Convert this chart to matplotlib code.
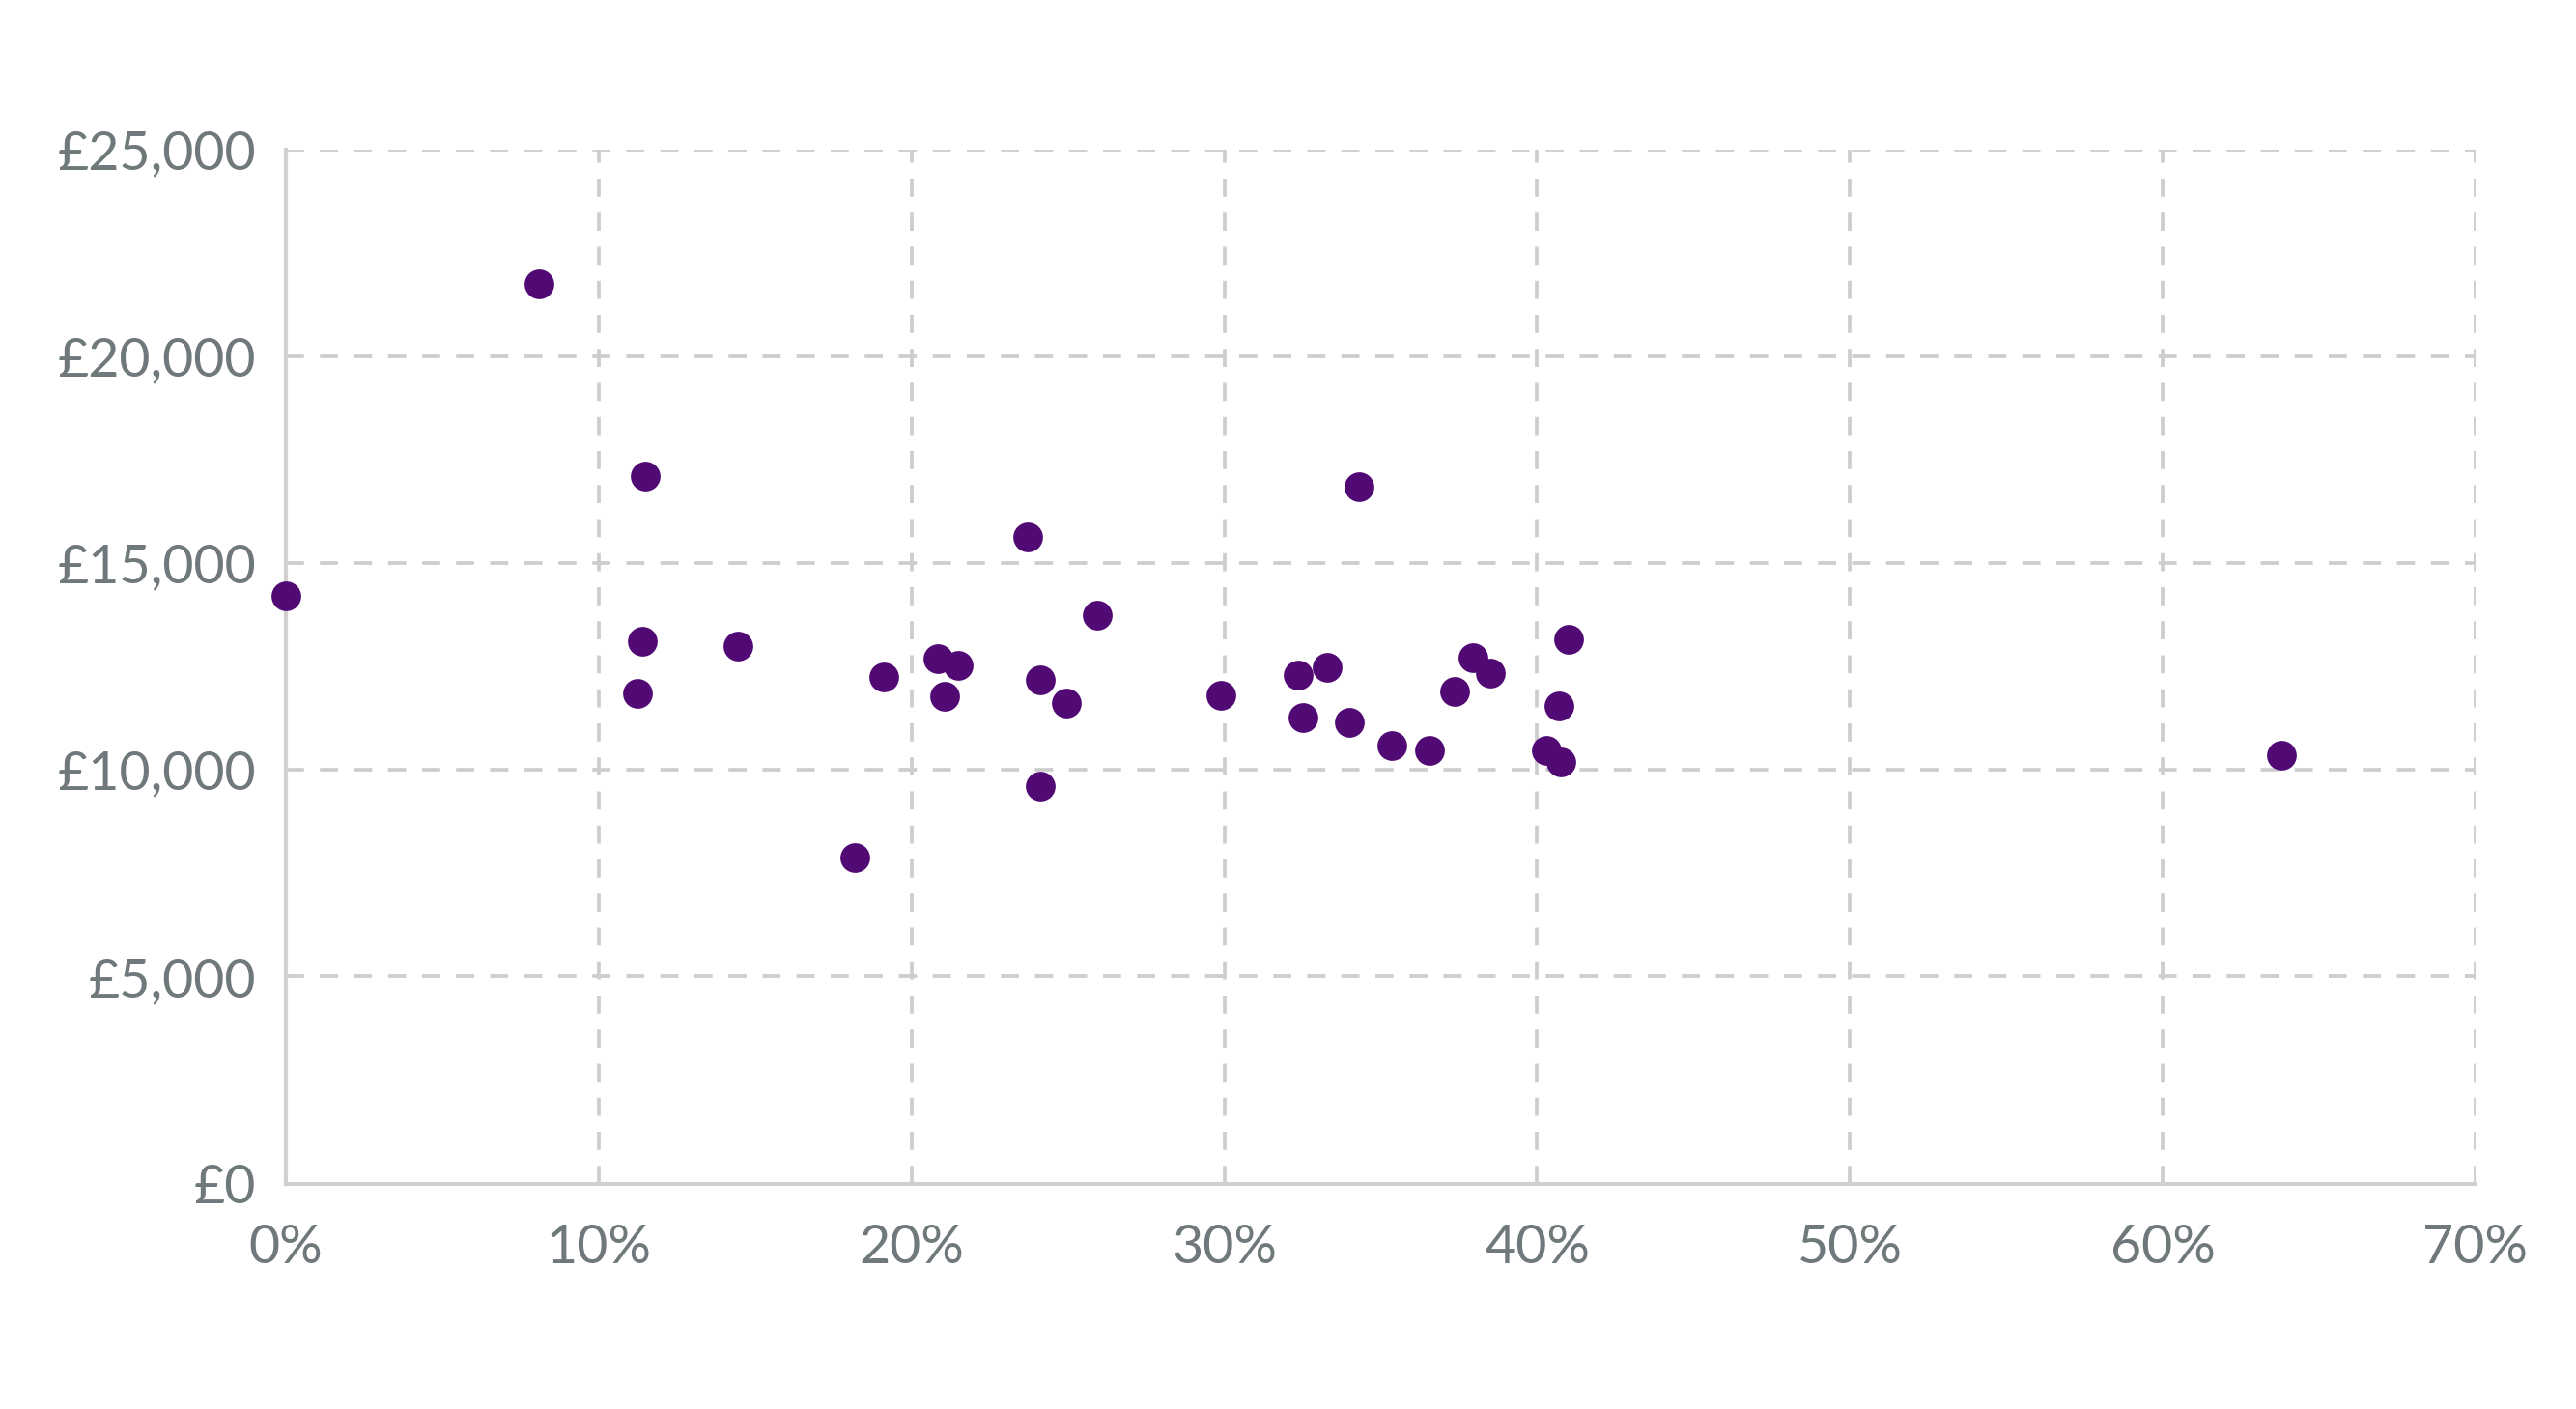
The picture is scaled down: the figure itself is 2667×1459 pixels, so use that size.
import matplotlib.pyplot as plt
from matplotlib.ticker import FuncFormatter

# share (%) vs value (GBP)
share_pct = [0.0, 8.1, 11.5, 11.4, 11.25, 14.45, 18.2, 19.1, 20.85, 21.05,
             21.5, 23.7, 24.1, 24.1, 24.95, 25.95, 29.9, 32.35, 32.5, 33.3,
             34.0, 34.3, 35.35, 36.55, 37.35, 37.95, 38.5, 40.3, 40.7, 40.75,
             41.0, 63.8]
value_gbp = [14200, 21750, 17100, 13100, 11850, 13000, 7880, 12250, 12700, 11780,
             12520, 15620, 12170, 9600, 11620, 13750, 11800, 12300, 11270, 12480,
             11140, 16850, 10580, 10470, 11900, 12720, 12330, 10470, 11540, 10190,
             13150, 10360]

x_ticks = [0, 10, 20, 30, 40, 50, 60, 70]
y_ticks = [0, 5000, 10000, 15000, 20000, 25000]

text_col = '#6f787a'
grid_col = '#cdcdcd'

plt.rcParams['font.family'] = ['Lato', 'DejaVu Sans']

fig = plt.figure(figsize=(26.67, 14.59), dpi=100)
ax = fig.add_axes([0.111, 0.160, 0.850, 0.734])

ax.scatter(share_pct, value_gbp, s=490, color='#510a74', zorder=3,
           linewidths=0, clip_on=False)

ax.set_xlim(0, 70)
ax.set_ylim(0, 25000)
ax.set_xticks(x_ticks)
ax.set_yticks(y_ticks)
ax.xaxis.set_major_formatter(FuncFormatter(lambda v, p: f'{v:.0f}%'))
ax.yaxis.set_major_formatter(FuncFormatter(lambda v, p: f'£{v:,.0f}'))

ax.grid(True, color=grid_col, linestyle=(0, (5, 4.4)), linewidth=2.7)
ax.set_axisbelow(True)
for side in ['top', 'right']:
    ax.spines[side].set_visible(False)
for side in ['left', 'bottom']:
    ax.spines[side].set_color('#d0d0d0')
    ax.spines[side].set_linewidth(3)

ax.tick_params(axis='both', length=0, labelsize=40, labelcolor=text_col)
ax.tick_params(axis='x', pad=30)
ax.tick_params(axis='y', pad=22)

fig.savefig('out.png', dpi=100, facecolor='white')
